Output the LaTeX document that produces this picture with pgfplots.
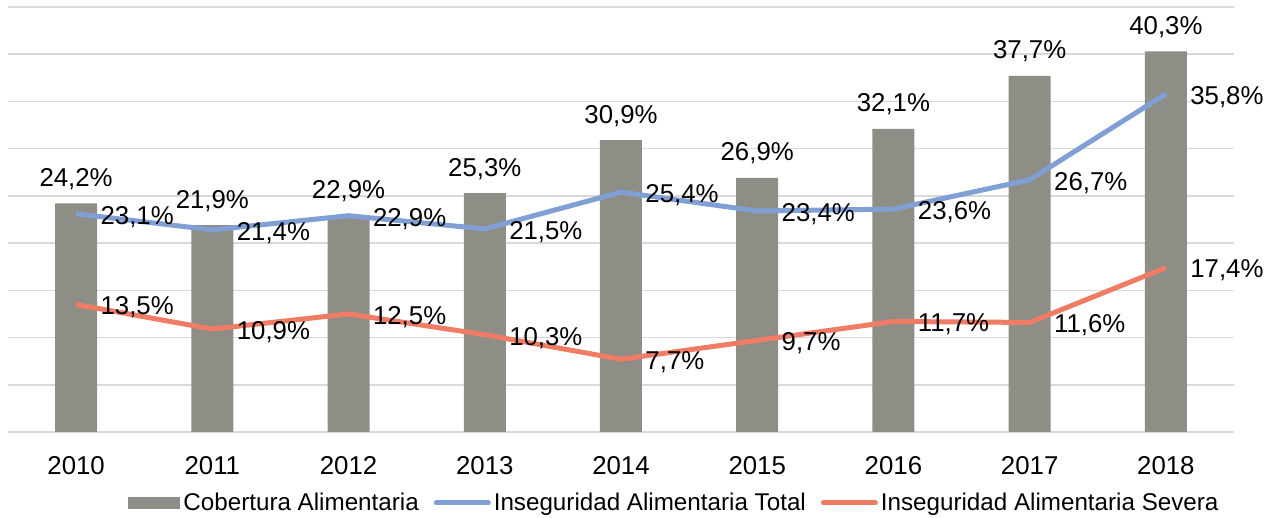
\documentclass[border=0pt]{standalone}
\usepackage{pgfplots}
\pgfplotsset{compat=1.18}
\usepackage{fontspec}
\setmainfont{Liberation Sans}
\definecolor{barcol}{HTML}{8E8E87}
\definecolor{totcol}{HTML}{7F9FD5}
\definecolor{sevcol}{HTML}{F07C66}
\definecolor{gridcol}{HTML}{D9D9D9}

\pgfplotstableread{
x cob tot sev
0 24.2 23.1 13.5
1 21.9 21.4 10.9
2 22.9 22.9 12.5
3 25.3 21.5 10.3
4 30.9 25.4 7.7
5 26.9 23.4 9.7
6 32.1 23.6 11.7
7 37.7 26.7 11.6
8 40.3 35.8 17.4
}\datatable

\newcommand{\lbl}{\fontsize{12.9}{15.5}\selectfont}
\newcommand{\leg}{\fontsize{12.1}{14.5}\selectfont}

\begin{document}
\begin{tikzpicture}
  \useasboundingbox (-4pt,-43pt) rectangle (631.5pt,216pt);
  \begin{axis}[
    scale only axis,
    width=613pt, height=212.5pt,
    xmin=-0.5, xmax=8.5,
    ymin=0, ymax=45,
    axis line style={draw=none},
    ytick={0,5,...,45},
    yticklabels={},
    ymajorgrids,
    grid style={gridcol, line width=0.8pt},
    major tick length=0pt,
    xtick={0,...,8},
    xticklabels={2010,2011,2012,2013,2014,2015,2016,2017,2018},
    xticklabel style={font=\lbl, anchor=north, inner sep=0pt, yshift=-12pt},
    /pgf/number format/assume math mode=true,
    legend columns=3,
    legend style={at={(0.0979,-0.167)}, anchor=west, draw=none, fill=none,
      inner sep=0pt, font=\leg,
      nodes={inner sep=1.5pt},
      /tikz/every even column/.append style={column sep=6pt}},
  ]
    \addplot[ybar, bar width=21pt, fill=barcol, draw=none,
      nodes near coords={\pgfmathprintnumber[fixed,fixed zerofill,precision=1,use comma]{\pgfplotspointmeta}\%},
      every node near coord/.append style={font=\lbl, black, anchor=base, inner sep=0pt, yshift=8.5pt},
      legend image code/.code={\fill[barcol] (0pt,-3pt) rectangle (26pt,3pt);}]
      table[x=x, y=cob] {\datatable};
    \addlegendentry{Cobertura Alimentaria}
    \addplot[totcol, line width=2.5pt, no marks,
      nodes near coords={\pgfmathprintnumber[fixed,fixed zerofill,precision=1,use comma]{\pgfplotspointmeta}\%},
      every node near coord/.append style={font=\lbl, black, anchor=west, inner sep=0pt, xshift=11pt, yshift=-1.5pt},
      legend image code/.code={\draw[totcol, line width=2.5pt, line cap=round] (0pt,0pt) -- (26pt,0pt);}]
      table[x=x, y=tot] {\datatable};
    \addlegendentry{Inseguridad Alimentaria Total}
    \addplot[sevcol, line width=2.5pt, no marks,
      nodes near coords={\pgfmathprintnumber[fixed,fixed zerofill,precision=1,use comma]{\pgfplotspointmeta}\%},
      every node near coord/.append style={font=\lbl, black, anchor=west, inner sep=0pt, xshift=11pt, yshift=-1.5pt},
      legend image code/.code={\draw[sevcol, line width=2.5pt, line cap=round] (0pt,0pt) -- (26pt,0pt);}]
      table[x=x, y=sev] {\datatable};
    \addlegendentry{Inseguridad Alimentaria Severa}
  \end{axis}
\end{tikzpicture}
\end{document}
